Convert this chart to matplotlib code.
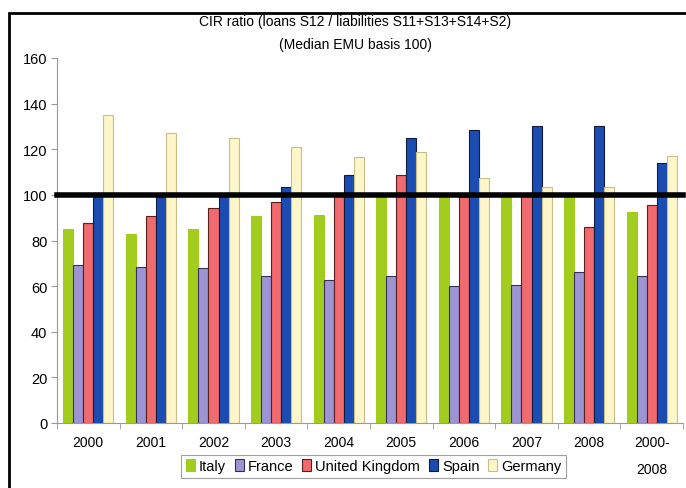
import numpy as np
import matplotlib as mpl
import matplotlib.pyplot as plt
from matplotlib.patches import Rectangle

mpl.rcParams['font.family'] = ['Liberation Sans Narrow', 'Liberation Sans', 'DejaVu Sans']

years = ['2000', '2001', '2002', '2003', '2004', '2005', '2006', '2007', '2008', '2000-\n2008']
countries = ['Italy', 'France', 'United Kingdom', 'Spain', 'Germany']

italy = [85, 83, 85, 90.8, 91.2, 99, 99, 99, 99, 92.5]
france = [69.3, 68.4, 68, 64.5, 62.7, 64.5, 60, 60.5, 66.2, 64.5]
uk = [87.7, 90.8, 94.3, 97, 101, 108.8, 99, 101, 86, 95.6]
spain = [101, 99, 99, 103.5, 108.8, 125, 128.5, 130, 130, 114]
germany = [135, 127, 125, 121, 116.7, 118.8, 107.5, 103.5, 103.5, 117]
series = [italy, france, uk, spain, germany]

colors = ['#a3cd1e', '#9d94d4', '#f06a6e', '#1a4cb2', '#fdf6c8']
edges = ['#a3cd1e', '#3a2f55', '#5a2020', '#101c40', '#c9bd8a']

fig = plt.figure(figsize=(6.86, 4.89), dpi=100)
ax = fig.add_axes([57/686, 1-424/489, (683-57)/686, 365/489])

x = np.arange(len(years))
w = 0.16
for i, (vals, c, ec) in enumerate(zip(series, colors, edges)):
    ax.bar(x + (i - 2) * w, vals, w, color=c, edgecolor=ec, linewidth=0.8,
           label=countries[i], zorder=2)

# median EMU = 100
ax.axhline(100, color='black', linewidth=4, zorder=3, clip_on=False)

ax.set_xlim(-0.5, len(years) - 0.5)
ax.set_ylim(0, 160)
ax.set_yticks(np.arange(0, 161, 20))
ax.set_xticks(x)
ax.set_xticklabels(years, linespacing=2.1)
ax.set_xticks(np.arange(-0.5, len(years), 1), minor=True)
ax.tick_params(axis='x', which='major', length=0, pad=9, labelsize=10)
ax.tick_params(axis='x', which='minor', length=4, color='#999999')
ax.tick_params(axis='y', length=4, color='#999999', labelsize=10.5, pad=3)
for s in ['top', 'right']:
    ax.spines[s].set_visible(False)
for s in ['left', 'bottom']:
    ax.spines[s].set_color('#999999')

fig.text(355/686, 1-22/489, 'CIR ratio (loans S12 / liabilities S11+S13+S14+S2)',
         ha='center', va='center', fontsize=10)
fig.text(355/686, 1-45/489, '(Median EMU basis 100)',
         ha='center', va='center', fontsize=10)

leg = fig.legend(loc='upper center', bbox_to_anchor=(0.545, 1-456/489), ncol=5,
                 fontsize=10.5, frameon=True, fancybox=False, edgecolor='#888888',
                 handlelength=0.6, handleheight=0.9, handletextpad=0.3,
                 columnspacing=0.6, borderpad=0.3, borderaxespad=0)
leg.get_frame().set_linewidth(0.8)

fig.patches.append(Rectangle((9/686, -0.01), 1.0, 1-14/489 + 0.01, transform=fig.transFigure,
                             fill=False, edgecolor='black', linewidth=2, zorder=0))

fig.savefig('out.png', dpi=100)
